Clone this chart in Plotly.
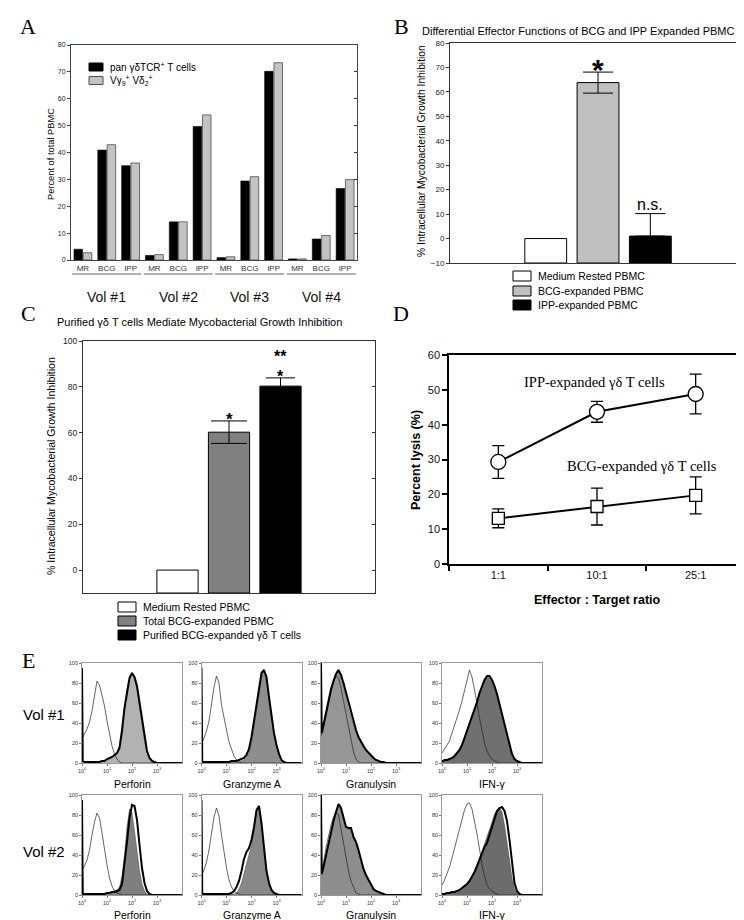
import plotly.graph_objects as go

W, H = 744, 920
SANS = "Liberation Sans, Arial, sans-serif"
SERIF = "Liberation Serif, Times New Roman, serif"

# ---------------- Panel A data ----------------
A_CONDITIONS = ["MR", "BCG", "IPP", "MR", "BCG", "IPP", "MR", "BCG", "IPP", "MR", "BCG", "IPP"]
A_VOLS = ["Vol #1", "Vol #2", "Vol #3", "Vol #4"]
A_PAN = [4.0, 40.9, 35.1, 1.7, 14.2, 49.7, 0.9, 29.4, 70.2, 0.4, 7.8, 26.6]
A_VG9VD2 = [2.7, 42.9, 36.1, 2.0, 14.2, 54.0, 1.2, 31.0, 73.4, 0.4, 9.1, 29.9]
A_SERIES = ["pan γδTCR<sup>+</sup> T cells", "Vγ<sub>9</sub><sup>+</sup> Vδ<sub>2</sub><sup>+</sup>"]
A_YTICKS = [0, 10, 20, 30, 40, 50, 60, 70, 80]

# ---------------- Panel B data ----------------
B_GROUPS = ["Medium Rested PBMC", "BCG-expanded PBMC", "IPP-expanded PBMC"]
B_VALUES = [0.0, 63.8, 1.0]
B_ERR_PLUS = [None, 4.3, 9.2]
B_ERR_MINUS = [None, 4.3, 0.0]
B_YTICKS = [-10, 0, 10, 20, 30, 40, 50, 60, 70, 80]
B_YMIN = -10

# ---------------- Panel C data ----------------
C_GROUPS = ["Medium Rested PBMC", "Total BCG-expanded PBMC", "Purified BCG-expanded γδ T cells"]
C_VALUES = [0.0, 60.2, 80.3]
C_ERR = [None, 4.9, 3.6]
C_YTICKS = [0, 20, 40, 60, 80, 100]
C_YMIN = -10

# ---------------- Panel D data ----------------
D_RATIOS = ["1:1", "10:1", "25:1"]
D_IPP = [29.3, 43.7, 48.8]
D_IPP_ERR = [4.7, 3.0, 5.7]
D_BCG = [13.1, 16.5, 19.7]
D_BCG_ERR = [2.7, 5.3, 5.3]
D_YTICKS = [0, 10, 20, 30, 40, 50, 60]

# ---------------- Panel E data (log10 fluorescence grid, % of max) ----------------
E_MARKERS = ["Perforin", "Granzyme A", "Granulysin", "IFN-γ"]
E_DONORS = ["Vol #1", "Vol #2"]
E_LOG_FLUOR = [0, 0.03, 0.1, 0.2, 0.3, 0.4, 0.5, 0.6, 0.7, 0.8, 0.9, 1.0, 1.1, 1.2, 1.3, 1.4, 1.5, 1.6, 1.7,
               1.8, 1.9, 2.0, 2.1, 2.2, 2.3, 2.4, 2.5, 2.6, 2.7, 2.8, 2.9, 3.0, 3.1, 3.2, 3.3, 3.4, 3.5, 4.0]
E_XTICKS = [1, 10, 100, 1000]
E_XTICKTEXT = ["10<sup>0</sup>", "10<sup>1</sup>", "10<sup>2</sup>", "10<sup>3</sup>"]
E_YTICKS = [0, 20, 40, 60, 80, 100]

E_V1_PERF_ISO = [25, 26, 29, 34, 41, 52, 68, 82, 78, 68, 57, 42, 28, 17, 9, 4, 1, 0, 0, 0, 0, 0, 0, 0, 0, 0, 0, 0, 0, 0, 0, 0, 0, 0, 0, 0, 0, 0]
E_V1_PERF_FILL = [2, 1, 1, 1, 1, 1, 1, 1, 1, 2, 2, 3, 4, 5, 7, 10, 18, 38, 60, 74, 85, 90, 84, 74, 57, 38, 22, 11, 4, 2, 1, 0, 0, 0, 0, 0, 0, 0]
E_V1_PERF_THICK = [95, 2, 1, 1, 1, 1, 1, 1, 1, 2, 2, 4, 5, 6, 8, 10, 15, 32, 55, 72, 85, 90, 86, 77, 60, 41, 25, 12, 5, 2, 1, 0, 0, 0, 0, 0, 0, 0]

E_V1_GRZ_ISO = [20, 21, 25, 32, 42, 58, 76, 87, 80, 58, 44, 33, 21, 13, 7, 3, 1, 0, 0, 0, 0, 0, 0, 0, 0, 0, 0, 0, 0, 0, 0, 0, 0, 0, 0, 0, 0, 0]
E_V1_GRZ_FILL = [1, 1, 1, 1, 1, 1, 1, 1, 1, 1, 1, 1, 1, 1, 1, 1, 1, 2, 3, 5, 10, 20, 35, 50, 68, 86, 92, 82, 62, 43, 28, 17, 8, 3, 1, 0, 0, 0]
E_V1_GRZ_THICK = [95, 1, 1, 1, 1, 1, 1, 1, 1, 1, 1, 1, 1, 2, 2, 2, 3, 4, 5, 8, 14, 26, 42, 58, 76, 90, 93, 86, 66, 46, 30, 18, 9, 3, 1, 0, 0, 0]

E_V1_GRN_ISO = [27, 29, 36, 48, 60, 72, 82, 87, 85, 75, 62, 48, 35, 21, 11, 4, 1, 0, 0, 0, 0, 0, 0, 0, 0, 0, 0, 0, 0, 0, 0, 0, 0, 0, 0, 0, 0, 0]
E_V1_GRN_FILL = [28, 30, 38, 50, 62, 73, 80, 87, 91, 86, 77, 64, 54, 46, 38, 31, 25, 20, 16, 13, 10, 8, 5, 3, 2, 1, 1, 0, 0, 0, 0, 0, 0, 0, 0, 0, 0, 0]
E_V1_GRN_THICK = [100, 30, 38, 50, 62, 74, 82, 89, 93, 88, 80, 70, 60, 50, 41, 33, 26, 21, 17, 13, 10, 8, 5, 3, 2, 1, 1, 0, 0, 0, 0, 0, 0, 0, 0, 0, 0, 0]

E_V1_IFN_ISO = [10, 11, 14, 18, 22, 30, 37, 44, 53, 62, 72, 84, 93, 86, 74, 60, 45, 31, 20, 12, 7, 4, 2, 1, 0, 0, 0, 0, 0, 0, 0, 0, 0, 0, 0, 0, 0, 0]
E_V1_IFN_FILL = [2, 2, 3, 3, 4, 5, 7, 10, 13, 18, 25, 31, 38, 45, 52, 61, 70, 76, 82, 86, 85, 80, 75, 67, 57, 47, 36, 25, 15, 8, 4, 2, 1, 0, 0, 0, 0, 0]
E_V1_IFN_THICK = [2, 2, 3, 3, 4, 5, 7, 10, 13, 18, 25, 31, 38, 45, 52, 61, 70, 77, 83, 87, 87, 83, 77, 69, 59, 48, 37, 26, 16, 9, 4, 2, 1, 0, 0, 0, 0, 0]

E_V2_PERF_ISO = [25, 26, 29, 35, 45, 60, 73, 82, 77, 62, 45, 30, 17, 9, 4, 2, 1, 0, 0, 0, 0, 0, 0, 0, 0, 0, 0, 0, 0, 0, 0, 0, 0, 0, 0, 0, 0, 0]
E_V2_PERF_FILL = [1, 1, 1, 1, 1, 1, 1, 1, 1, 1, 1, 2, 2, 3, 4, 5, 8, 19, 40, 68, 86, 82, 64, 44, 24, 11, 4, 1, 0, 0, 0, 0, 0, 0, 0, 0, 0, 0]
E_V2_PERF_THICK = [95, 1, 1, 1, 1, 1, 1, 1, 1, 1, 1, 2, 2, 3, 3, 4, 5, 11, 30, 53, 77, 90, 89, 75, 50, 27, 12, 4, 1, 0, 0, 0, 0, 0, 0, 0, 0, 0]

E_V2_GRZ_ISO = [20, 21, 25, 33, 45, 62, 78, 87, 79, 60, 42, 27, 15, 8, 4, 2, 1, 0, 0, 0, 0, 0, 0, 0, 0, 0, 0, 0, 0, 0, 0, 0, 0, 0, 0, 0, 0, 0]
E_V2_GRZ_FILL = [1, 1, 1, 1, 1, 1, 1, 1, 1, 1, 1, 1, 1, 1, 1, 2, 6, 12, 22, 31, 39, 50, 65, 84, 87, 70, 43, 24, 12, 5, 2, 1, 0, 0, 0, 0, 0, 0]
E_V2_GRZ_THICK = [95, 1, 1, 1, 1, 1, 1, 1, 1, 1, 1, 1, 1, 2, 4, 8, 14, 24, 36, 43, 47, 55, 68, 85, 89, 72, 45, 24, 12, 5, 2, 1, 0, 0, 0, 0, 0, 0]

E_V2_GRN_ISO = [24, 26, 32, 47, 59, 70, 78, 83, 80, 66, 53, 37, 24, 14, 7, 2, 1, 0, 0, 0, 0, 0, 0, 0, 0, 0, 0, 0, 0, 0, 0, 0, 0, 0, 0, 0, 0, 0]
E_V2_GRN_FILL = [19, 21, 28, 40, 52, 64, 73, 82, 90, 86, 74, 66, 66, 66, 56, 52, 44, 34, 25, 19, 15, 10, 6, 4, 3, 2, 1, 0, 0, 0, 0, 0, 0, 0, 0, 0, 0, 0]
E_V2_GRN_THICK = [100, 21, 28, 40, 52, 64, 74, 83, 91, 87, 76, 68, 67, 67, 58, 53, 45, 35, 26, 20, 15, 10, 6, 4, 3, 2, 1, 0, 0, 0, 0, 0, 0, 0, 0, 0, 0, 0]

E_V2_IFN_ISO = [10, 11, 15, 21, 28, 37, 47, 56, 66, 77, 85, 91, 92, 86, 75, 61, 46, 30, 19, 10, 6, 4, 2, 1, 0, 0, 0, 0, 0, 0, 0, 0, 0, 0, 0, 0, 0, 0]
E_V2_IFN_FILL = [1, 1, 1, 2, 2, 3, 3, 4, 5, 7, 9, 11, 14, 18, 23, 29, 36, 43, 50, 57, 65, 73, 81, 85, 87, 83, 70, 52, 34, 17, 6, 2, 1, 0, 0, 0, 0, 0]
E_V2_IFN_THICK = [1, 1, 1, 2, 2, 3, 3, 4, 5, 7, 9, 11, 14, 18, 23, 29, 36, 42, 48, 52, 60, 70, 78, 84, 87, 88, 84, 74, 55, 32, 12, 4, 1, 0, 0, 0, 0, 0]

E_FILL_COLORS = ["#b2b2b2", "#8e8e8e", "#969696", "#707070",
                 "#7f7f7f", "#888888", "#8e8e8e", "#6c6c6c"]

# ---------------- helpers ----------------
def fx(p):
    return p / W


def fy(p):
    return 1 - p / H


annotations = []
shapes = []


def ann_px(text, x, y, size, family=SANS, xanchor="center", yanchor="middle", angle=0, color="black"):
    annotations.append(dict(text=text, x=fx(x), y=fy(y), xref="paper", yref="paper",
                            xanchor=xanchor, yanchor=yanchor, textangle=angle, showarrow=False,
                            font=dict(size=size, family=family, color=color)))


def ann_data(text, x, y, xref, yref, size, yshift=0, family=SANS):
    annotations.append(dict(text=text, x=x, y=y, xref=xref, yref=yref, showarrow=False,
                            xanchor="center", yanchor="middle", yshift=yshift,
                            font=dict(size=size, family=family, color="black")))


def rect_px(x0, y0, x1, y1, fill, line="black", lw=1):
    shapes.append(dict(type="rect", xref="paper", yref="paper", x0=fx(x0), x1=fx(x1), y0=fy(y1), y1=fy(y0),
                       fillcolor=fill, line=dict(color=line, width=lw)))


layout = dict(width=W, height=H, margin=dict(l=0, r=0, t=0, b=0, pad=0), template="none",
              paper_bgcolor="white", plot_bgcolor="white", showlegend=False,
              font=dict(family=SANS, color="black"))


def ax_name(kind, i):
    return kind + ("" if i == 1 else str(i))


def set_axes(i, xd, yd, xopts, yopts):
    layout[ax_name("xaxis", i)] = dict(domain=[fx(xd[0]), fx(xd[1])], anchor=ax_name("y", i),
                                      showgrid=False, zeroline=False, automargin=False, **xopts)
    layout[ax_name("yaxis", i)] = dict(domain=[fy(yd[1]), fy(yd[0])], anchor=ax_name("x", i),
                                      showgrid=False, zeroline=False, automargin=False, **yopts)


def mirror_ticks(i, base, rng, vals, ln=3):
    layout[ax_name("yaxis", i)] = dict(overlaying=ax_name("y", base), side="right", anchor=ax_name("x", base),
                                      range=rng, tickvals=vals, ticks="inside", ticklen=ln,
                                      tickcolor="#333", showticklabels=False, showline=False,
                                      showgrid=False, zeroline=False)


def err_marker(x, y, plus, minus, cap, xa, ya):
    return go.Scatter(x=[x], y=[y], mode="markers", marker=dict(size=1, color="rgba(0,0,0,0)"),
                      error_y=dict(type="data", symmetric=False, array=[plus], arrayminus=[minus],
                                   color="black", thickness=1, width=cap),
                      xaxis=xa, yaxis=ya)


fig = go.Figure()

# ================= Panel A =================
A_POS = list(range(len(A_CONDITIONS)))
fig.add_trace(go.Bar(x=A_POS, y=A_PAN, width=0.36, offset=-0.375,
                     marker=dict(color="black", line=dict(color="black", width=0.6)),
                     xaxis="x", yaxis="y"))
fig.add_trace(go.Bar(x=A_POS, y=A_VG9VD2, width=0.36, offset=0.015,
                     marker=dict(color="#c3c3c3", line=dict(color="#4d4d4d", width=0.8)),
                     xaxis="x", yaxis="y"))
set_axes(1, (63, 349), (37, 252),
         dict(range=[-0.5, 11.5], tickvals=A_POS, ticktext=A_CONDITIONS, ticks="",
              showline=True, linecolor="#444", linewidth=1, mirror=True,
              tickfont=dict(size=8, color="#333")),
         dict(range=[0, 80], tickvals=A_YTICKS, ticks="outside", ticklen=3, tickcolor="#444",
              showline=True, linecolor="#444", linewidth=1, mirror=True,
              tickfont=dict(size=7, color="#222")))
mirror_ticks(13, 1, [0, 80], A_YTICKS)
fig.add_trace(go.Scatter(x=[], y=[], xaxis="x", yaxis="y13"))
for g, vol in enumerate(A_VOLS):
    shapes.append(dict(type="line", xref="x", yref="paper", x0=g * 3 - 0.45, x1=g * 3 + 2.45,
                       y0=fy(266), y1=fy(266), line=dict(color="#999", width=1.5)))
    annotations.append(dict(text=vol, x=g * 3 + 1, y=fy(279), xref="x", yref="paper", showarrow=False,
                            font=dict(size=14, family=SANS, color="#111")))
rect_px(81, 55, 95, 63, "black")
rect_px(81, 68.5, 95, 76.5, "#c3c3c3", line="#4d4d4d")
ann_px(A_SERIES[0], 100, 59, 10, xanchor="left")
ann_px(A_SERIES[1], 100, 72.5, 10, xanchor="left")
ann_px("Percent of total PBMC", 43, 146, 9.3, angle=-90)
ann_px("A", 20, 18, 22, family=SERIF)

# ================= Panel B =================
B_COLORS = ["white", "#c0c0c0", "black"]
for i, v in enumerate(B_VALUES):
    fig.add_trace(go.Bar(x=[i], y=[v - B_YMIN], base=B_YMIN, width=0.8,
                         marker=dict(color=B_COLORS[i], line=dict(color="black", width=1)),
                         xaxis="x2", yaxis="y2"))
for i, v in enumerate(B_VALUES):
    if B_ERR_PLUS[i] is not None:
        fig.add_trace(err_marker(i, v, B_ERR_PLUS[i], B_ERR_MINUS[i], 15, "x2", "y2"))
set_axes(2, (442, 737), (35, 255),
         dict(range=[-1.83, 3.81], showticklabels=False, ticks="", showline=True, linecolor="#333",
              linewidth=1, mirror=True),
         dict(range=[-10, 80], tickvals=B_YTICKS, ticks="outside", ticklen=3, tickcolor="#333",
              showline=True, linecolor="#333", linewidth=1, mirror=True,
              tickfont=dict(size=8, color="#222")))
mirror_ticks(14, 2, [-10, 80], B_YTICKS)
fig.add_trace(go.Scatter(x=[], y=[], xaxis="x2", yaxis="y14"))
ann_data("<b>*</b>", 1, 71.8, "x2", "y2", 30, yshift=-6)
ann_data("n.s.", 2, 13.7, "x2", "y2", 16, yshift=1)
for i, name in enumerate(B_GROUPS):
    yc = [268, 283, 297][i]
    rect_px(505, yc - 5, 523, yc + 5, B_COLORS[i])
    ann_px(name, 528, yc, 10.5, xanchor="left")
ann_px("Differential Effector Functions of BCG and IPP Expanded PBMC", 412, 23, 11, xanchor="left")
ann_px("% Intracellular Mycobacterial Growth Inhibition", 413, 143, 10.3, angle=-90)
ann_px("B", 393, 18, 22, family=SERIF)

# ================= Panel C =================
C_COLORS = ["white", "#808080", "black"]
C_CAPS = [0, 18, 14.5]
for i, v in enumerate(C_VALUES):
    fig.add_trace(go.Bar(x=[i], y=[v - C_YMIN], base=C_YMIN, width=0.8,
                         marker=dict(color=C_COLORS[i], line=dict(color="black", width=1)),
                         xaxis="x3", yaxis="y3"))
for i, v in enumerate(C_VALUES):
    if C_ERR[i] is not None:
        fig.add_trace(err_marker(i, v, C_ERR[i], C_ERR[i], C_CAPS[i], "x3", "y3"))
set_axes(3, (75, 367), (333, 585),
         dict(range=[-1.835, 3.835], showticklabels=False, ticks="", showline=True, linecolor="#333",
              linewidth=1, mirror=True),
         dict(range=[-10, 100], tickvals=C_YTICKS, ticks="outside", ticklen=3, tickcolor="#333",
              showline=True, linecolor="#333", linewidth=1, mirror=True,
              tickfont=dict(size=8.5, color="#222")))
mirror_ticks(15, 3, [-10, 100], C_YTICKS)
fig.add_trace(go.Scatter(x=[], y=[], xaxis="x3", yaxis="y15"))
ann_data("<b>*</b>", 1, 67.2, "x3", "y3", 17, yshift=-3)
ann_data("<b>*</b>", 2, 85.6, "x3", "y3", 16, yshift=-3)
ann_data("<b>**</b>", 2, 94.6, "x3", "y3", 16, yshift=-3)
for i, name in enumerate(C_GROUPS):
    yc = [599, 613, 627][i]
    rect_px(110, yc - 5, 128, yc + 5, C_COLORS[i])
    ann_px(name, 133, yc, 10.5, xanchor="left")
ann_px("Purified γδ T cells Mediate Mycobacterial Growth Inhibition", 47, 314, 11, xanchor="left")
ann_px("% Intracellular Mycobacterial Growth Inhibition", 43, 458, 10.6, angle=-90)
ann_px("C", 20, 305, 22, family=SERIF)

# ================= Panel D =================
fig.add_trace(go.Scatter(x=D_RATIOS, y=D_IPP, mode="lines+markers",
                         line=dict(color="black", width=2),
                         marker=dict(symbol="circle", size=15, color="white", line=dict(color="black", width=1.3)),
                         error_y=dict(type="data", array=D_IPP_ERR, color="black", thickness=1.3, width=6),
                         xaxis="x4", yaxis="y4"))
fig.add_trace(go.Scatter(x=D_RATIOS, y=D_BCG, mode="lines+markers",
                         line=dict(color="black", width=2),
                         marker=dict(symbol="square", size=12, color="white", line=dict(color="black", width=1.3)),
                         error_y=dict(type="data", array=D_BCG_ERR, color="black", thickness=1.3, width=6),
                         xaxis="x4", yaxis="y4"))
set_axes(4, (441, 737), (347, 556),
         dict(type="category", range=[-0.5, 2.5], tickson="boundaries", ticks="outside", ticklen=5,
              tickwidth=1.5, tickcolor="black", showline=True, linecolor="black", linewidth=1.5, mirror=True,
              tickfont=dict(size=11, color="#111")),
         dict(range=[0, 60], tickvals=D_YTICKS, ticks="outside", ticklen=5, tickwidth=1.5, tickcolor="black",
              showline=True, linecolor="black", linewidth=1.5, mirror=True,
              tickfont=dict(size=11, color="#111")))
ann_px("IPP-expanded γδ T cells", 586, 374, 14.5, family=SERIF)
ann_px("BCG-expanded γδ T cells", 634, 458, 14.5, family=SERIF)
ann_px("<b>Percent lysis (%)</b>", 408, 452, 12.5, angle=-90)
ann_px("<b>Effector : Target ratio</b>", 589, 592, 12.5)
ann_px("D", 393, 306, 22, family=SERIF)

# ================= Panel E =================
E_X = [10 ** v for v in E_LOG_FLUOR]
E_SETS = [
    (E_V1_PERF_ISO, E_V1_PERF_FILL, E_V1_PERF_THICK),
    (E_V1_GRZ_ISO, E_V1_GRZ_FILL, E_V1_GRZ_THICK),
    (E_V1_GRN_ISO, E_V1_GRN_FILL, E_V1_GRN_THICK),
    (E_V1_IFN_ISO, E_V1_IFN_FILL, E_V1_IFN_THICK),
    (E_V2_PERF_ISO, E_V2_PERF_FILL, E_V2_PERF_THICK),
    (E_V2_GRZ_ISO, E_V2_GRZ_FILL, E_V2_GRZ_THICK),
    (E_V2_GRN_ISO, E_V2_GRN_FILL, E_V2_GRN_THICK),
    (E_V2_IFN_ISO, E_V2_IFN_FILL, E_V2_IFN_THICK),
]
E_XDOM = [(74, 174), (193.5, 293.5), (313, 413), (434, 534)]
E_YDOM = [(655, 755), (787, 887)]
E_XTITLE_Y = [776, 907]
for r in range(2):
    for c in range(4):
        k = r * 4 + c
        idx = 5 + k
        xa, ya = ax_name("x", idx), ax_name("y", idx)
        iso, fill, thick = E_SETS[k]
        fig.add_trace(go.Scatter(x=E_X, y=fill, mode="lines", fill="tozeroy", fillcolor=E_FILL_COLORS[k],
                                 line=dict(color="#444", width=0.5), xaxis=xa, yaxis=ya))
        fig.add_trace(go.Scatter(x=E_X, y=iso, mode="lines", line=dict(color="#222", width=0.7),
                                 xaxis=xa, yaxis=ya))
        fig.add_trace(go.Scatter(x=E_X, y=thick, mode="lines", line=dict(color="black", width=2),
                                 xaxis=xa, yaxis=ya))
        set_axes(idx, E_XDOM[c], E_YDOM[r],
                 dict(type="log", range=[0, 4], tickvals=E_XTICKS, ticktext=E_XTICKTEXT, ticks="outside",
                      ticklen=2, tickcolor="#777", showline=True, linecolor="#999", linewidth=0.8, mirror=True,
                      tickfont=dict(size=5.5, color="#333")),
                 dict(range=[0, 100], tickvals=E_YTICKS, ticks="outside", ticklen=2, tickcolor="#777",
                      showline=True, linecolor="#999", linewidth=0.8, mirror=True,
                      tickfont=dict(size=5.5, color="#333")))
        ann_px(E_MARKERS[c], (E_XDOM[c][0] + E_XDOM[c][1]) / 2, E_XTITLE_Y[r], 10.5)
ann_px(E_DONORS[0], 36, 706, 15)
ann_px(E_DONORS[1], 36, 843, 15)
ann_px("E", 20, 652, 22, family=SERIF)

layout["annotations"] = annotations
layout["shapes"] = shapes
fig.update_layout(**layout)
fig.write_html("out.html")
